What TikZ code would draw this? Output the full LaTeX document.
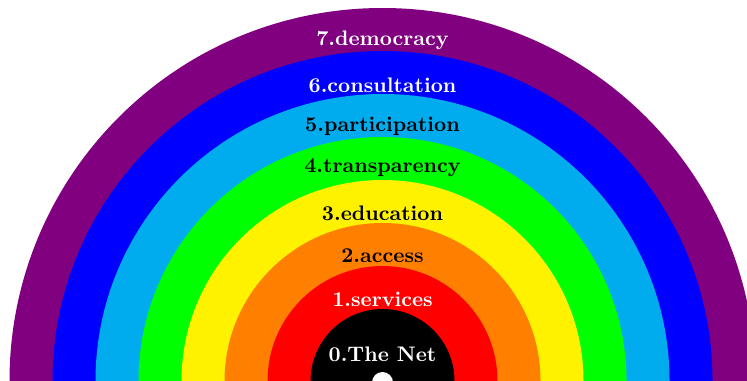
\documentclass[tikz,border=0pt]{standalone}
\definecolor{ringpurple}{RGB}{128,0,128}
\definecolor{ringblue}{RGB}{0,0,255}
\definecolor{ringcyan}{RGB}{0,172,238}
\definecolor{ringgreen}{RGB}{0,255,0}
\definecolor{ringyellow}{RGB}{255,242,0}
\definecolor{ringorange}{RGB}{255,128,0}
\definecolor{ringred}{RGB}{255,0,0}
\begin{document}
\begin{tikzpicture}[x=0.475pt,y=0.475pt]
\tikzset{every node/.style={font=\bfseries,inner sep=1pt}}
\useasboundingbox (0,0) rectangle (747,380);
\clip (0,0) rectangle (747,380);
\coordinate (centre) at (382.5,-1);
% rings, outermost first
\foreach \r/\c in {373/ringpurple,330/ringblue,287/ringcyan,244/ringgreen,
                   201/ringyellow,158/ringorange,115/ringred,72/black}
    \fill[\c] (centre) circle (\r);
\coordinate (hub) at (382.5,-2.5);
\fill[white] (hub) circle (10.5);
% labels
\node[text=white] (democracy)     at (382.5,340) {7.democracy};
\node[text=white] (consultation)  at (382.5,295) {6.consultation};
\node (participation) at (382.5,254) {5.participation};
\node (transparency)  at (382.5,212) {4.transparency};
\node (education)     at (382.5,167) {3.education};
\node (access)        at (382.5,124) {2.access};
\node[text=white] (services)      at (382.5,81)  {1.services};
\node[text=white] (thenet)        at (382.5,26)  {0.The Net};
\end{tikzpicture}
\end{document}
